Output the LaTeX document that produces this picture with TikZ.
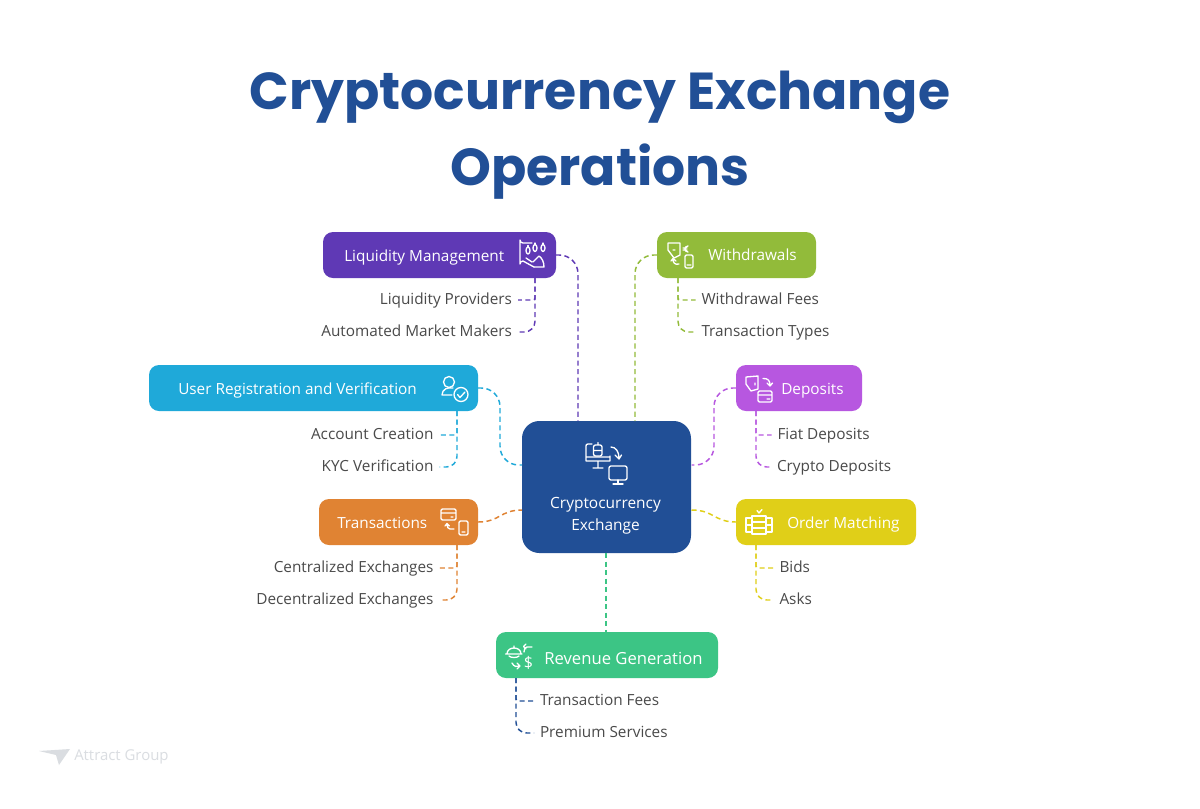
\documentclass[tikz,border=0pt]{standalone}
\usepackage{fontspec}
\setmainfont{Open Sans}
\newfontfamily\titlefont{Poppins}[BoldFont={Poppins Bold}]
\definecolor{ttl}{HTML}{214F96}
\definecolor{cPur}{HTML}{5F39B5}
\definecolor{cOli}{HTML}{92BB3A}
\definecolor{cVio}{HTML}{B757E0}
\definecolor{cCya}{HTML}{1FA9D9}
\definecolor{cOra}{HTML}{E08333}
\definecolor{cYel}{HTML}{E0CF18}
\definecolor{cGrn}{HTML}{3CC585}
\definecolor{lbl}{HTML}{4A4A4A}
\definecolor{wm}{HTML}{DADDE1}
\tikzset{
 x=0.75pt,y=-0.75pt,
 box/.style={draw=none,rounded corners=7.5pt,minimum height=34.5pt,inner sep=0pt,outer sep=0pt},
 boxlab/.style={text=white,font=\fontsize{11.5}{13}\selectfont,inner sep=0pt,text height=8.5pt,text depth=2.5pt},
 leaf/.style={text=lbl,font=\fontsize{11.5}{13}\selectfont,inner ysep=0pt,inner xsep=0pt,outer xsep=4.5pt,outer ysep=0pt,text height=8.5pt,text depth=2.5pt},
 dashline/.style={line width=1.1pt,dash pattern=on 3.8pt off 2.6pt},
 link/.style={dashline,rounded corners=14pt},
 tiny/.style={dashline,rounded corners=1.5pt},
 curved/.style={dashline,rounded corners=8pt},
 ic/.style={draw=white,line width=1pt,line cap=round,line join=round},
}
\begin{document}
\begin{tikzpicture}
\useasboundingbox (0,0) rectangle (1200,808);
\fill[white] (0,0) rectangle (1200,808);
% title
\node[text=ttl,font=\titlefont\bfseries\fontsize{39}{57}\selectfont,align=center] (title) at (600,135.5)
 {Cryptocurrency Exchange\\Operations};
% boxes
\node[box,fill=ttl,rounded corners=13pt,minimum width=126.75pt,minimum height=99pt] (center) at (606.5,487) {};
\node[box,fill=cPur,minimum width=174.75pt] (liq) at (439.5,255) {};
\node[box,fill=cOli,minimum width=119.25pt] (wit) at (736.5,255) {};
\node[box,fill=cVio,minimum width=94.5pt] (dep) at (799,388) {};
\node[box,fill=cCya,minimum width=246.75pt] (usr) at (313.5,388) {};
\node[box,fill=cOra,minimum width=119.25pt] (trn) at (398.5,522) {};
\node[box,fill=cYel,minimum width=135pt] (ord) at (826,522) {};
\node[box,fill=cGrn,minimum width=166.5pt] (rev) at (607,655) {};
% box labels
\node[text=white,font=\fontsize{11.6}{16.5}\selectfont,align=center,inner sep=0pt] (tcenter) at (605.5,516) {Cryptocurrency\\Exchange};
\node[boxlab,anchor=west] (tliq) at (344,257) {Liquidity Management};
\node[boxlab,anchor=west] (twit) at (708,256) {Withdrawals};
\node[boxlab,anchor=west] (tdep) at (781,390) {Deposits};
\node[boxlab,anchor=west] (tusr) at (178,390) {User Registration and Verification};
\node[boxlab,anchor=west] (ttrn) at (337,524) {Transactions};
\node[boxlab,anchor=west] (tord) at (787,524) {Order Matching};
\node[boxlab,anchor=west,font=\fontsize{12.5}{14}\selectfont] (trev) at (544,660) {Revenue Generation};
% leaves
\node[leaf,anchor=east] (l1) at (518,300) {Liquidity Providers};
\node[leaf,anchor=east] (l2) at (518,332) {Automated Market Makers};
\node[leaf,anchor=west] (w1) at (695.5,300) {Withdrawal Fees};
\node[leaf,anchor=west] (w2) at (695.5,332) {Transaction Types};
\node[leaf,anchor=west] (d1) at (771.5,435) {Fiat Deposits};
\node[leaf,anchor=west] (d2) at (771,467) {Crypto Deposits};
\node[leaf,anchor=east] (u1) at (439.5,435) {Account Creation};
\node[leaf,anchor=east] (u2) at (439.5,467) {KYC Verification};
\node[leaf,anchor=east] (t1) at (439.5,568) {Centralized Exchanges};
\node[leaf,anchor=east] (t2) at (439.5,600) {Decentralized Exchanges};
\node[leaf,anchor=west] (o1) at (773.5,568) {Bids};
\node[leaf,anchor=west] (o2) at (773.5,600) {Asks};
\node[leaf,anchor=west] (r1) at (534,701) {Transaction Fees};
\node[leaf,anchor=west] (r2) at (534,733) {Premium Services};
% coordinates on the box edges
\coordinate (cA) at (578,421);
\coordinate (cB) at (635,421);
\coordinate (cC) at (691.5,465);
\coordinate (cD) at (522,465);
\coordinate (cE) at (522,510);
\coordinate (cF) at (691.5,510);
\coordinate (cG) at (606,553);
\coordinate (rG) at (606,632);
\coordinate (liqB) at (535,278);
\coordinate (witB) at (678,278);
\coordinate (depB) at (756,411);
\coordinate (usrB) at (457,411);
\coordinate (trnB) at (457,545);
\coordinate (ordB) at (756,545);
\coordinate (revB) at (516,678);
% main connectors
\draw[link,cPur] (liq.east) -| (cA);
\draw[link,cOli] (wit.west) -| (cB);
\draw[link,cVio] (dep.west) -- (714,388) -- (714,465) -- (cC);
\draw[link,cCya] (usr.east) -- (500,388) -- (500,465) -- (cD);
\draw[dashline,cOra] (trn.east) .. controls (500,522) and (500,510) .. (cE);
\draw[dashline,cYel] (cF) .. controls (714,510) and (714,522) .. (ord.west);
\draw[dashline,cGrn] (cG) -- (rG);
% leaf connectors
\draw[tiny,cPur] (liqB) |- (l1.east);
\draw[curved,cPur] (liqB) |- (l2.east);
\draw[tiny,cOli] (witB) |- (w1.west);
\draw[curved,cOli] (witB) |- (w2.west);
\draw[tiny,cVio] (depB) |- (d1.west);
\draw[curved,cVio] (depB) |- (d2.west);
\draw[tiny,cCya] (usrB) |- (u1.east);
\draw[curved,cCya] (usrB) |- (u2.east);
\draw[tiny,cOra] (trnB) |- (t1.east);
\draw[curved,cOra] (trnB) |- (t2.east);
\draw[tiny,cYel] (ordB) |- (o1.west);
\draw[curved,cYel] (ordB) |- (o2.west);
\draw[tiny,ttl] (revB) |- (r1.west);
\draw[curved,ttl] (revB) |- (r2.west);
% icons: liquidity
\draw[ic] (532,243) -- (523,243) arc[start angle=90,end angle=180,radius=3] -- (520,264) arc[start angle=180,end angle=270,radius=3] -- (534,267);
\draw[ic] (528,250.5) ellipse[x radius=2,y radius=3.5] (535,248) ellipse[x radius=2,y radius=3.5] (543,248) ellipse[x radius=2,y radius=3.5];
\draw[ic] (528,247) -- (528,245.5) (535,244.5) -- (535,243) (543,244.5) -- (543,243);
\draw[ic] (526,258) -- (532,262) (534,267) -- (544,267) .. controls (544,262) and (542,258) .. (539,256) -- (533,262);
% withdrawals
\draw[ic] (668,243) -- (680,243) -- (680,255) -- (674,258) -- (668,250) -- cycle (673,250) -- (675,250);
\draw[ic] (688,246) .. controls (684,246) and (684,252) .. (688,252) (683,248) -- (687,248) (683,250) -- (687,250);
\draw[ic,rounded corners=1pt] (685,255) rectangle (693,268) (687,265) -- (691,265);
\draw[ic] (679,264) .. controls (675,265) and (673,263) .. (673,259) (671,261) -- (673,258.5) -- (676,261);
% deposits
\draw[ic] (746,377) -- (758,376) -- (758,389) -- (751,391) -- (746,384) -- cycle (755,383) -- (755,385);
\draw[ic] (763,378.5) .. controls (768,378) and (770,381) .. (770,385) (767,383) -- (770,386) -- (772.5,383);
\draw[ic,rounded corners=1pt] (758,391) rectangle (772,402) (758,395) -- (772,395) (767,399) -- (770,399);
% user
\draw[ic] (449,382) circle[radius=5.5];
\draw[ic] (442,395) .. controls (442,389) and (448,387) .. (453,388) (442,395) -- (452,395);
\draw[ic] (461,394.5) circle[radius=7];
\draw[ic] (457.5,394.5) -- (460,397.5) -- (465,392);
% transactions
\draw[ic,rounded corners=1pt] (441,509) rectangle (456,520) (441,513) -- (456,513) (451,517) -- (453,517);
\draw[ic] (454,529) -- (450,529) .. controls (448,529) and (447,527) .. (447,524) (445,526) -- (447,523.5) -- (449.5,526);
\draw[ic,rounded corners=1pt] (459,521) rectangle (468,535) (462,532) -- (465,532);
% order matching
\draw[ic] (752,516) rectangle (766,534) (752,522) -- (766,522) (752,528) -- (766,528);
\draw[ic] (752,518) -- (746,518) -- (746,532) -- (752,532) (746,525) -- (752,525);
\draw[ic] (766,518) -- (772,518) -- (772,532) -- (766,532) (766,525) -- (772,525);
\draw[ic] (757,510.5) -- (759,513) -- (762,509.5);
% revenue
\draw[ic] (507,654) .. controls (507,646) and (521,646) .. (521,654) -- cycle (505.5,654) -- (522,654) (509,656) .. controls (511,658) and (517,658) .. (519,656) (514,648) -- (514,646);
\draw[ic] (532,647) -- (527,647) (527,647) .. controls (525,647) and (524,649) .. (524,652) (526,644) -- (523.5,646.5) -- (526,649);
\draw[ic] (512,663) .. controls (514,667) and (517,667) .. (520,666) (517,663) -- (520,666) -- (517,669);
\node[text=white,font=\fontsize{12}{12}\selectfont,inner sep=0pt] (dollar) at (528.5,662.5) {\$};
% center icon
\draw[ic] (592,444) -- (588,444) .. controls (586.5,444) and (586,445) .. (586,446) -- (586,461) -- (610,461) -- (610,456) (586,457) -- (610,457) (598,462) -- (598,467) (593,468) -- (603,468);
\draw[ic,rounded corners=1.5pt] (593.5,445) -- (602,445) -- (602,456) -- (593.5,456) -- cycle (598,442.5) -- (598,445) (593.5,450.5) -- (602,450.5);
\draw[ic] (611,447) .. controls (616,447) and (619,452) .. (619,458) (615,455) -- (619,459) -- (621.5,455);
\draw[ic,rounded corners=1.5pt] (609,466) rectangle (627,480);
\draw[ic] (618,480) -- (618,483) (613,484) -- (623,484);
% watermark
\fill[wm] (39,751) -- (70,749) -- (59,765) -- (56,755) -- cycle;
\node[text=wm,font=\fontsize{11.2}{12}\selectfont,inner sep=0pt,anchor=west,text height=8pt,text depth=2.5pt] (wmark) at (74,757) {Attract Group};
\end{tikzpicture}
\end{document}
